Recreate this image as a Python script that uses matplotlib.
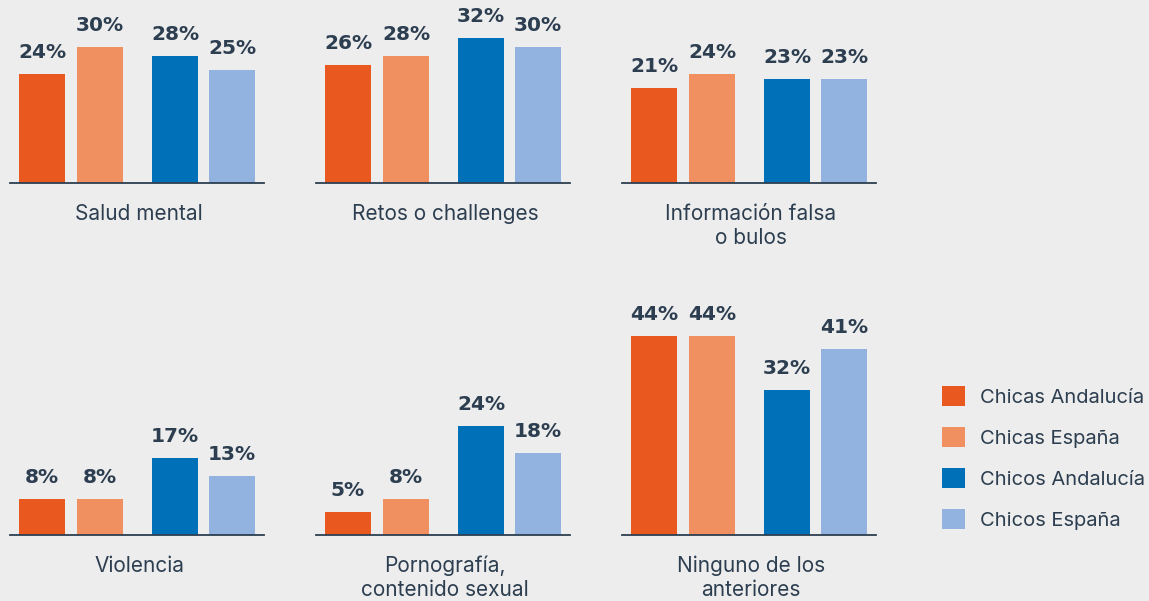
import matplotlib.pyplot as plt
from matplotlib.patches import Patch

# Data
categories = ['Salud mental', 'Retos o challenges', 'Información falsa\no bulos',
              'Violencia', 'Pornografía,\ncontenido sexual', 'Ninguno de los\nanteriores']
series = ['Chicas Andalucía', 'Chicas España', 'Chicos Andalucía', 'Chicos España']
chicas_andalucia = [24, 26, 21, 8, 5, 44]
chicas_espana = [30, 28, 24, 8, 8, 44]
chicos_andalucia = [28, 32, 23, 17, 24, 32]
chicos_espana = [25, 30, 23, 13, 18, 41]

colors = ['#e8581f', '#f09060', '#0070b9', '#92b3df']
txt = '#2c3e50'
bg = '#ededed'

plt.rcParams['font.family'] = ['Inter', 'DejaVu Sans']

W, H = 1149, 601
fig = plt.figure(figsize=(W / 100, H / 100), dpi=100, facecolor=bg)

px_per_pct = 4.53
xpos = [32, 90, 165, 222]   # bar centres in px inside each panel
bar_w = 46
panel_w = 254
lefts = [10, 316, 622]
baselines = [183, 535]
ymax = [40, 52]

for i, cat in enumerate(categories):
    row, col = divmod(i, 3)
    h = ymax[row] * px_per_pct
    ax = fig.add_axes([lefts[col] / W, (H - baselines[row]) / H, panel_w / W, h / H])
    ax.set_facecolor('none')
    vals = [chicas_andalucia[i], chicas_espana[i], chicos_andalucia[i], chicos_espana[i]]
    ax.bar(xpos, vals, width=bar_w, color=colors)
    for x, v in zip(xpos, vals):
        ax.text(x, v + 16 / px_per_pct, f'{v}%', ha='center', va='baseline', fontsize=14.5,
                fontweight='bold', color=txt, family='DejaVu Sans')
    ax.set_xlim(0, panel_w)
    ax.set_ylim(0, ymax[row])
    for s in ['top', 'right', 'left']:
        ax.spines[s].set_visible(False)
    ax.spines['bottom'].set_color(txt)
    ax.spines['bottom'].set_linewidth(1.3)
    ax.set_xticks([])
    ax.set_yticks([])
    ax.text(panel_w / 2 + 2, -21 / px_per_pct, cat, ha='center', va='top',
            fontsize=15, color=txt, linespacing=1.25)

handles = [Patch(facecolor=c, edgecolor='none') for c in colors]
fig.legend(handles, series, loc='upper left', bbox_to_anchor=(932 / W, 1 - 376 / H),
           frameon=False, fontsize=14.5, labelcolor=txt, handlelength=1.15,
           handleheight=1.15, labelspacing=1.0, handletextpad=0.75, borderpad=0)

fig.savefig('out.png', dpi=100, facecolor=bg)
